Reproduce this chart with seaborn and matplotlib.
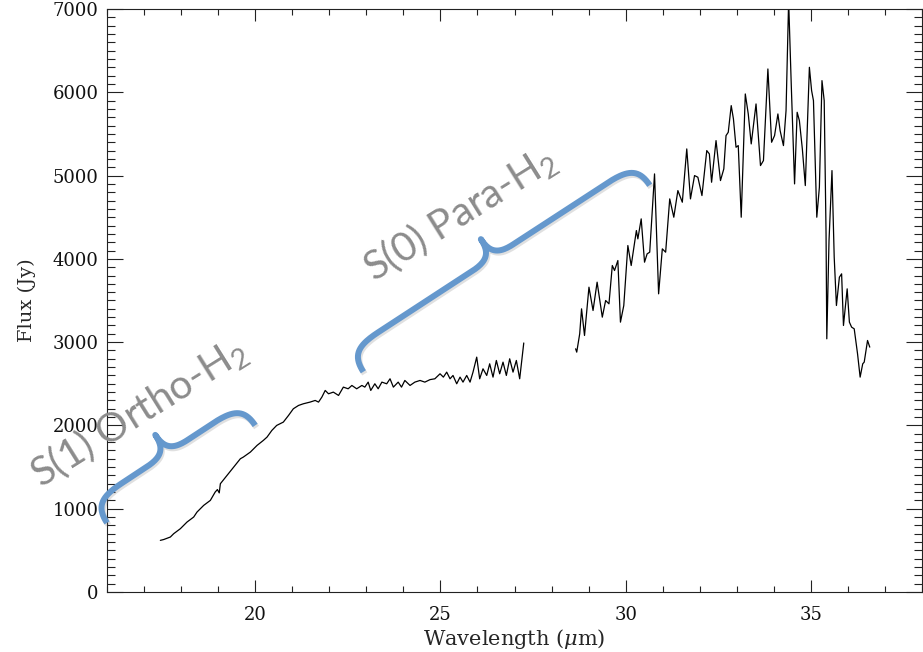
import numpy as np
import pandas as pd
import matplotlib
matplotlib.use("Agg")
import matplotlib.pyplot as plt
import matplotlib.patheffects as pe
from matplotlib.ticker import MultipleLocator
from matplotlib.transforms import IdentityTransform
import seaborn as sns

# ---- spectrum: short-wavelength module ----
wave_sh = [17.44, 17.53, 17.71, 17.80, 17.98, 18.16, 18.34, 18.43, 18.61, 18.79,
           18.92, 18.98, 19.03, 19.06, 19.24, 19.42, 19.60, 19.68, 19.87, 20.05,
           20.22, 20.32, 20.45, 20.58, 20.76, 20.90, 21.03, 21.17, 21.30, 21.48,
           21.62, 21.71, 21.80, 21.89, 21.98, 22.11, 22.25, 22.38, 22.51, 22.61,
           22.74, 22.88, 22.96, 23.05, 23.12, 23.23, 23.32, 23.42, 23.55, 23.64,
           23.73, 23.86, 23.95, 24.04, 24.18, 24.31, 24.45, 24.58, 24.72, 24.85,
           24.99, 25.08, 25.17, 25.26, 25.34, 25.44, 25.53, 25.61, 25.71, 25.80,
           25.88, 25.98, 26.06, 26.15, 26.25, 26.33, 26.42, 26.51, 26.60, 26.69,
           26.78, 26.87, 26.96, 27.05, 27.14, 27.25]
flux_sh = [620, 630, 660, 700, 760, 840, 900, 960, 1040, 1100,
           1200, 1230, 1190, 1300, 1400, 1500, 1600, 1620, 1680, 1760,
           1820, 1860, 1940, 2000, 2040, 2120, 2200, 2240, 2260, 2280,
           2300, 2280, 2340, 2420, 2380, 2400, 2360, 2460, 2440, 2480,
           2440, 2480, 2460, 2520, 2420, 2500, 2440, 2520, 2500, 2560,
           2460, 2520, 2460, 2540, 2480, 2520, 2540, 2520, 2550, 2560,
           2620, 2580, 2640, 2560, 2600, 2500, 2580, 2520, 2600, 2520,
           2640, 2820, 2560, 2680, 2600, 2740, 2580, 2780, 2620, 2760,
           2600, 2800, 2640, 2780, 2560, 2990]

# ---- spectrum: long-wavelength module ----
wave_lh = [28.65, 28.68, 28.76, 28.81, 28.89, 29.01, 29.12, 29.23, 29.37, 29.46,
           29.55, 29.64, 29.70, 29.79, 29.86, 29.95, 30.06, 30.15, 30.29, 30.33,
           30.42, 30.51, 30.58, 30.65, 30.78, 30.89, 30.99, 31.08, 31.19, 31.30,
           31.41, 31.53, 31.65, 31.75, 31.86, 31.95, 32.06, 32.19, 32.26, 32.32,
           32.44, 32.56, 32.65, 32.71, 32.77, 32.85, 32.91, 32.98, 33.04, 33.12,
           33.23, 33.31, 33.39, 33.52, 33.64, 33.72, 33.84, 33.94, 34.02, 34.11,
           34.17, 34.26, 34.33, 34.40, 34.47, 34.56, 34.63, 34.69, 34.77, 34.85,
           34.96, 35.02, 35.07, 35.16, 35.23, 35.30, 35.36, 35.41, 35.43, 35.49,
           35.57, 35.63, 35.69, 35.77, 35.83, 35.88, 35.98, 36.04, 36.10, 36.17,
           36.26, 36.33, 36.40, 36.44, 36.53, 36.59]
flux_lh = [2920, 2880, 3100, 3400, 3080, 3660, 3380, 3720, 3300, 3500,
           3460, 3920, 3860, 3980, 3240, 3440, 4160, 3920, 4340, 4240,
           4480, 3960, 4060, 4080, 5020, 3580, 4120, 4080, 4720, 4500,
           4820, 4680, 5320, 4720, 5000, 4980, 4760, 5300, 5260, 4920,
           5420, 4940, 5080, 5480, 5520, 5840, 5680, 5340, 5360, 4500,
           5980, 5740, 5380, 5860, 5120, 5180, 6280, 5400, 5480, 5740,
           5540, 5360, 5780, 7100, 6100, 4900, 5760, 5660, 5320, 4880,
           6300, 6020, 5900, 4500, 4860, 6140, 5900, 4300, 3040, 4220,
           5060, 4020, 3440, 3780, 3820, 3200, 3640, 3240, 3180, 3160,
           2860, 2580, 2740, 2760, 3020, 2940]

# ---- line identifications ----
label_ortho = r"S(1) Ortho-H$_2$"
label_para = r"S(0) Para-H$_2$"
brace_ortho = [(16.0, 830), (20.0, 2000)]
brace_para = [(22.92, 2644), (30.65, 4884)]

spec = pd.concat([
    pd.DataFrame({"wavelength": wave_sh, "flux": flux_sh, "module": "SH"}),
    pd.DataFrame({"wavelength": wave_lh, "flux": flux_lh, "module": "LH"}),
], ignore_index=True)

sns.set_style("ticks")
plt.rcParams["font.family"] = ["DejaVu Serif"]
plt.rcParams["mathtext.fontset"] = "custom"
plt.rcParams["mathtext.rm"] = "Lato"
plt.rcParams["mathtext.it"] = "DejaVu Serif:italic"

fig = plt.figure(figsize=(9.23, 6.52), dpi=100)
ax = fig.add_axes([107 / 923, 60 / 652, 815 / 923, 583 / 652])

sns.lineplot(data=spec, x="wavelength", y="flux", units="module",
             estimator=None, sort=False, color="black", linewidth=0.9, ax=ax)
for ln in ax.get_lines():
    ln.set_solid_joinstyle("round")

ax.set_xlim(16, 38)
ax.set_ylim(0, 7000)
ax.xaxis.set_major_locator(MultipleLocator(5))
ax.xaxis.set_minor_locator(MultipleLocator(1))
ax.yaxis.set_major_locator(MultipleLocator(1000))
ax.yaxis.set_minor_locator(MultipleLocator(100))
for s in ax.spines.values():
    s.set_visible(True)
    s.set_linewidth(0.8)
    s.set_color("#222222")
ax.tick_params(axis="both", which="both", direction="in", top=True, right=True,
               width=0.8, color="#222222", labelsize=13, labelcolor="#111111")
ax.tick_params(axis="x", which="major", length=8.6, pad=10)
ax.tick_params(axis="x", which="minor", length=4.3)
ax.tick_params(axis="y", which="major", length=11.7, pad=6)
ax.tick_params(axis="y", which="minor", length=5.9)
ax.set_xlabel(r"Wavelength ($\mu$m)", fontsize=15, labelpad=2)
ax.set_ylabel("Flux (Jy)", fontsize=14, labelpad=12)


def brace_curve(p0, p1, depth=47, offset=25, hook=34, neck=24, n=40):
    """Curly brace between two display points, cusp on the left of p0->p1."""
    p0 = np.asarray(p0, float)
    p1 = np.asarray(p1, float)
    d = p1 - p0
    L = np.hypot(*d)
    u = d / L
    v = np.array([-u[1], u[0]])

    def bez(P):
        t = np.linspace(0, 1, n)[:, None]
        P = np.asarray(P, float)
        return ((1 - t) ** 3 * P[0] + 3 * (1 - t) ** 2 * t * P[1]
                + 3 * (1 - t) * t ** 2 * P[2] + t ** 3 * P[3])

    m = L / 2
    first = np.vstack([
        bez([(0, 0), (0, offset * 0.8), (hook * 0.3, offset), (hook, offset)]),
        bez([(m - neck, offset), (m - neck * 0.25, offset),
             (m, offset + (depth - offset) * 0.3), (m, depth)]),
    ])
    second = first[::-1].copy()
    second[:, 0] = L - second[:, 0]
    local = np.vstack([first, second])
    return p0 + local[:, :1] * u + local[:, 1:2] * v


brace_color = "#6598CD"
shadow = [pe.SimpleLineShadow(offset=(1.0, -1.5), shadow_color="#666666", alpha=0.2),
          pe.Normal()]
for ends in (brace_ortho, brace_para):
    pts = brace_curve(*ax.transData.transform(ends))
    ax.plot(pts[:, 0], pts[:, 1], transform=IdentityTransform(), color=brace_color,
            linewidth=4.3, solid_capstyle="butt", solid_joinstyle="round",
            clip_on=False, zorder=5, path_effects=shadow)

text_kw = dict(color="#8c8c8c", fontsize=29, family="Lato", rotation=32,
               rotation_mode="anchor", ha="left", va="baseline",
               annotation_clip=False, zorder=6)
ax.annotate(label_ortho, xy=(14.2, 1250), **text_kw)
ax.annotate(label_para, xy=(23.2, 3720), **text_kw)

fig.savefig("out.png", dpi=100)
